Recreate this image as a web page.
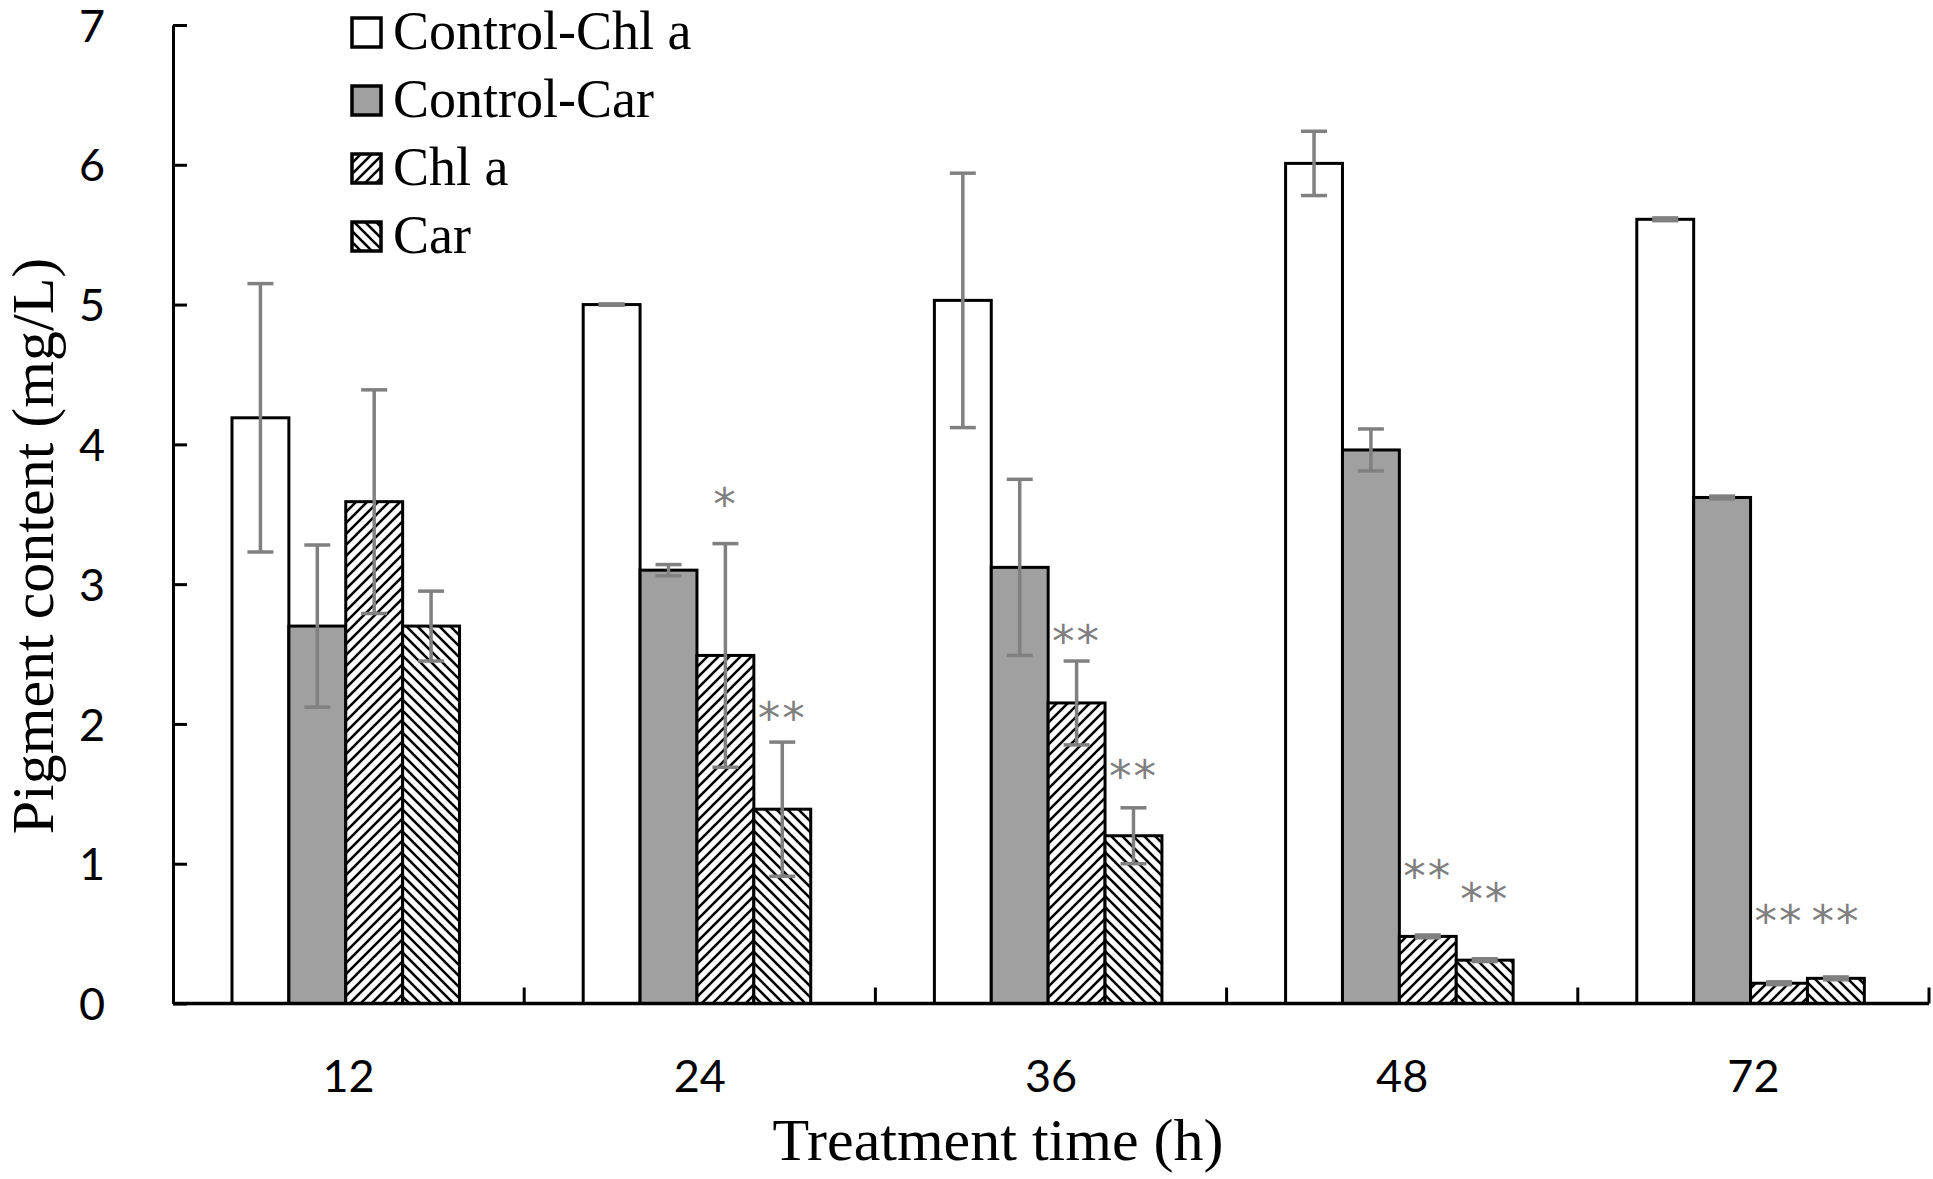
<!DOCTYPE html>
<html>
<head>
<meta charset="utf-8">
<script src="https://cdn.jsdelivr.net/npm/d3@7"></script>
<style>
  body { margin: 0; background: #fff; }
</style>
</head>
<body>
<div id="bar-chart"></div>
<script>
const categories = ['12', '24', '36', '48', '72']
const seriesNames = ['Control-Chl a', 'Control-Car', 'Chl a', 'Car']

const controlChl = [4.19, 5.0, 5.03, 6.01, 5.61]
const controlChlErr = [0.96, 0.005, 0.91, 0.23, 0.01]
const controlCar = [2.7, 3.1, 3.12, 3.96, 3.62]
const controlCarErr = [0.58, 0.04, 0.63, 0.15, 0.01]
const chla = [3.59, 2.49, 2.15, 0.48, 0.145]
const chlaErr = [0.8, 0.8, 0.3, 0.01, 0.01]
const car = [2.7, 1.39, 1.2, 0.31, 0.18]
const carErr = [0.25, 0.48, 0.2, 0.01, 0.01]

// significance marks and the height they sit at (mg/L)
const chlaSig = ['', '*', '**', '**', '**']
const chlaSigY = [0, 3.62, 2.64, 0.96, 0.64]
const carSig = ['', '**', '**', '**', '**']
const carSigY = [0, 2.09, 1.68, 0.8, 0.64]

const yTicks = [0, 1, 2, 3, 4, 5, 6, 7]

const width = 1933
const height = 1179
const plot = { left: 173, right: 1929, top: 25, bottom: 1003.5 }

const svg = d3
  .select('#bar-chart')
  .append('svg')
  .attr('width', width)
  .attr('height', height)

// hatch patterns
const defs = svg.append('defs')
function hatch(id, d) {
  defs
    .append('pattern')
    .attr('id', id)
    .attr('patternUnits', 'userSpaceOnUse')
    .attr('width', 11)
    .attr('height', 11)
    .call(p => p.append('rect').attr('width', 11).attr('height', 11).attr('fill', '#fff'))
    .append('path')
    .attr('d', d)
    .attr('stroke', '#000')
    .attr('stroke-width', 2.6)
}
hatch('up', 'M0,11L11,0M-2.75,2.75L2.75,-2.75M8.25,13.75L13.75,8.25')
hatch('down', 'M0,0L11,11M-2.75,8.25L2.75,13.75M8.25,-2.75L13.75,2.75')

const fills = ['#ffffff', '#a0a0a0', 'url(#up)', 'url(#down)']

const series = [
  { name: seriesNames[0], values: controlChl, errs: controlChlErr, sig: null, sigY: null },
  { name: seriesNames[1], values: controlCar, errs: controlCarErr, sig: null, sigY: null },
  { name: seriesNames[2], values: chla, errs: chlaErr, sig: chlaSig, sigY: chlaSigY },
  { name: seriesNames[3], values: car, errs: carErr, sig: carSig, sigY: carSigY }
]

const xPositionScale = d3
  .scaleBand()
  .domain(categories)
  .range([plot.left, plot.right])

const xInner = d3
  .scaleBand()
  .domain(seriesNames)
  .range([0, xPositionScale.bandwidth()])
  .paddingOuter(1.087)
  .align(0.477)

const yPositionScale = d3
  .scaleLinear()
  .domain([0, 7])
  .range([plot.bottom, plot.top])

const points = []
series.forEach((s, si) => {
  categories.forEach((c, ci) => {
    points.push({
      cat: c,
      series: s.name,
      si: si,
      value: s.values[ci],
      err: s.errs[ci],
      sig: s.sig ? s.sig[ci] : '',
      sigY: s.sigY ? s.sigY[ci] : 0
    })
  })
})

const barX = d => xPositionScale(d.cat) + xInner(d.series)
const barMid = d => barX(d) + xInner.bandwidth() / 2

// bars
svg
  .append('g')
  .selectAll('rect')
  .data(points)
  .enter()
  .append('rect')
  .attr('x', barX)
  .attr('y', d => yPositionScale(d.value))
  .attr('width', xInner.bandwidth())
  .attr('height', d => yPositionScale(0) - yPositionScale(d.value))
  .attr('fill', d => fills[d.si])
  .attr('stroke', '#000')
  .attr('stroke-width', 3)

// error bars
const errG = svg.append('g').attr('stroke', '#808080').attr('stroke-width', 3.5)
points.forEach(d => {
  const cx = barMid(d)
  const top = yPositionScale(d.value + d.err)
  const bot = yPositionScale(d.value - d.err)
  errG.append('line').attr('x1', cx).attr('x2', cx).attr('y1', top).attr('y2', bot)
  errG.append('line').attr('x1', cx - 13).attr('x2', cx + 13).attr('y1', top).attr('y2', top)
  errG.append('line').attr('x1', cx - 13).attr('x2', cx + 13).attr('y1', bot).attr('y2', bot)
})

// significance stars
svg
  .append('g')
  .selectAll('text')
  .data(points.filter(d => d.sig))
  .enter()
  .append('text')
  .attr('x', barMid)
  .attr('y', d => yPositionScale(d.sigY) + 23)
  .attr('text-anchor', 'middle')
  .attr('font-family', '"DejaVu Sans", sans-serif')
  .attr('font-size', 45)
  .attr('letter-spacing', 2)
  .attr('fill', '#7f7f7f')
  .text(d => d.sig)

// y axis
const yAxis = d3
  .axisLeft(yPositionScale)
  .tickValues(yTicks)
  .tickSizeInner(-14)
  .tickSizeOuter(0)
  .tickPadding(68)
  .tickFormat(d3.format('d'))

svg
  .append('g')
  .attr('class', 'axis y-axis')
  .attr('transform', 'translate(' + plot.left + ',0)')
  .call(yAxis)
  .call(g => g.select('.domain').attr('stroke', '#000').attr('stroke-width', 3))
  .call(g => g.selectAll('.tick line').attr('stroke', '#000').attr('stroke-width', 3))
  .call(g =>
    g
      .selectAll('.tick text')
      .attr('font-family', 'Lato, sans-serif')
      .attr('font-size', 45)
      .attr('fill', '#000')
      .attr('dy', '0.36em')
  )

// x axis: ticks between categories, pointing up
const xAxisG = svg.append('g').attr('class', 'axis x-axis')
xAxisG
  .append('line')
  .attr('x1', plot.left)
  .attr('x2', plot.right)
  .attr('y1', plot.bottom)
  .attr('y2', plot.bottom)
  .attr('stroke', '#000')
  .attr('stroke-width', 3.5)

xAxisG
  .selectAll('.tick-mark')
  .data(categories)
  .enter()
  .append('line')
  .attr('class', 'tick-mark')
  .attr('x1', d => xPositionScale(d) + xPositionScale.bandwidth())
  .attr('x2', d => xPositionScale(d) + xPositionScale.bandwidth())
  .attr('y1', plot.bottom)
  .attr('y2', plot.bottom - 16)
  .attr('stroke', '#000')
  .attr('stroke-width', 3)

xAxisG
  .selectAll('text')
  .data(categories)
  .enter()
  .append('text')
  .attr('x', d => xPositionScale(d) + xPositionScale.bandwidth() / 2)
  .attr('y', 1092)
  .attr('text-anchor', 'middle')
  .attr('font-family', 'Lato, sans-serif')
  .attr('font-size', 45)
  .text(d => d)

// axis titles
svg
  .append('text')
  .attr('x', 998)
  .attr('y', 1160)
  .attr('text-anchor', 'middle')
  .attr('font-family', '"Liberation Serif", "Times New Roman", serif')
  .attr('font-size', 60)
  .text('Treatment time (h)')

svg
  .append('text')
  .attr('transform', 'translate(53,546) rotate(-90)')
  .attr('text-anchor', 'middle')
  .attr('font-family', '"Liberation Serif", "Times New Roman", serif')
  .attr('font-size', 60)
  .text('Pigment content (mg/L)')

// legend
const legend = svg
  .append('g')
  .selectAll('g')
  .data(seriesNames)
  .enter()
  .append('g')
  .attr('transform', (d, i) => 'translate(352,' + (49 + i * 68) + ')')

legend
  .append('rect')
  .attr('x', 0)
  .attr('y', -31)
  .attr('width', 29)
  .attr('height', 29)
  .attr('fill', (d, i) => fills[i])
  .attr('stroke', '#000')
  .attr('stroke-width', 3.5)

legend
  .append('text')
  .attr('x', 41)
  .attr('y', 0)
  .attr('font-family', '"Liberation Serif", "Times New Roman", serif')
  .attr('font-size', 54)
  .text(d => d)
</script>
</body>
</html>
